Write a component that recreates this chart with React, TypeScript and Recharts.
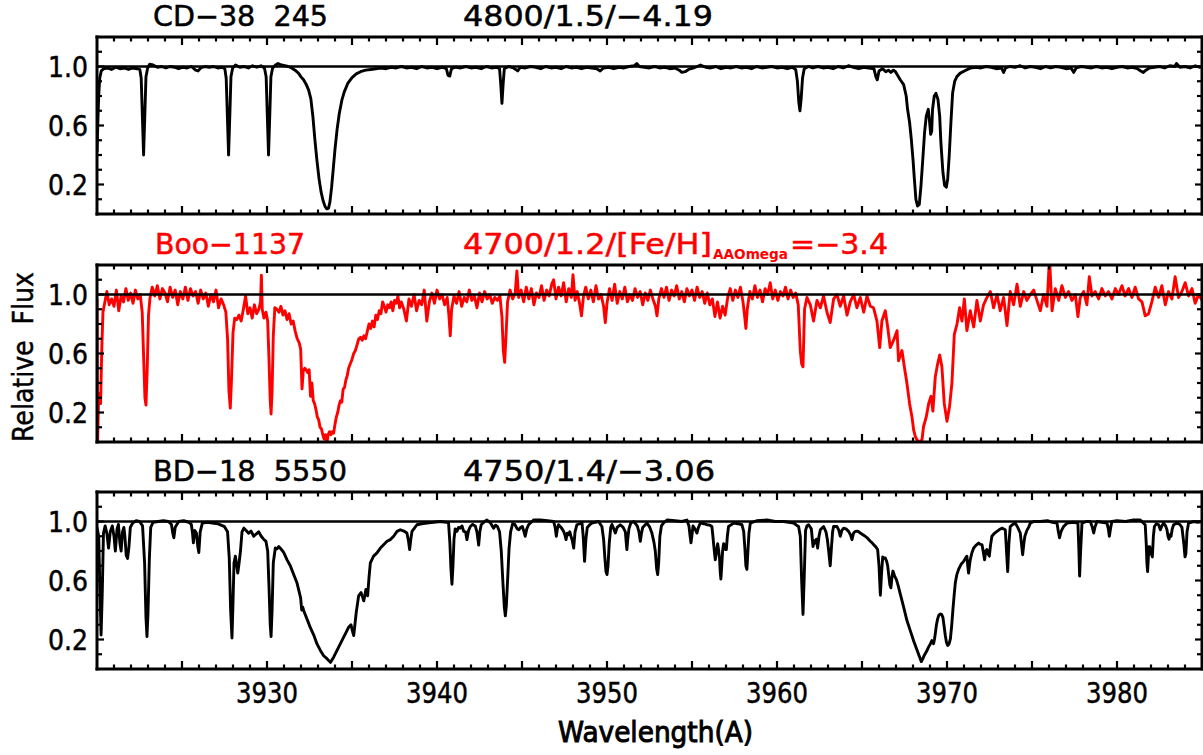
import React from 'react'
import { LineChart, Line, XAxis, YAxis, ReferenceLine } from 'recharts'

type Pt = [number, number]

// CD-38 245 (top panel, black)
const cd38Spec: Pt[] = [
  [3920.00,0.42],[3920.05,0.62],[3920.10,0.80],[3920.16,0.92],[3920.25,0.97],[3920.40,0.985],[3920.60,0.99],[3920.85,0.98],[3921.10,0.995],[3921.35,0.985],[3921.60,0.99],[3921.85,0.98],[3922.10,0.99],[3922.35,0.985],[3922.52,0.98],[3922.60,0.92],[3922.67,0.66],[3922.74,0.40],[3922.81,0.66],[3922.88,0.93],[3922.98,0.99],[3923.10,1.015],[3923.30,1.01],[3923.55,0.995],[3923.80,1.0],[3924.05,0.99],[3924.30,1.0],[3924.55,0.995],[3924.80,0.985],[3925.05,0.995],[3925.30,0.99],[3925.55,1.0],[3925.80,0.975],[3925.95,0.97],[3926.10,0.99],[3926.35,1.0],[3926.60,0.995],[3926.85,1.0],[3927.10,0.99],[3927.35,0.995],[3927.52,0.985],[3927.60,0.92],[3927.67,0.66],[3927.74,0.40],[3927.81,0.66],[3927.88,0.93],[3927.98,0.99],[3928.15,1.01],[3928.40,0.995],[3928.65,1.0],[3928.90,0.99],[3929.15,1.005],[3929.40,0.995],[3929.65,1.005],[3929.85,0.99],[3929.95,0.93],[3930.02,0.66],[3930.09,0.40],[3930.16,0.66],[3930.23,0.93],[3930.33,0.99],[3930.50,1.01],[3930.65,1.02],[3930.85,1.01],[3931.05,1.005],[3931.25,1.0],[3931.45,0.99],[3931.65,0.975],[3931.85,0.955],[3932.00,0.93],[3932.15,0.91],[3932.30,0.88],[3932.45,0.84],[3932.58,0.78],[3932.70,0.66],[3932.82,0.50],[3932.94,0.36],[3933.06,0.24],[3933.18,0.15],[3933.30,0.09],[3933.42,0.05],[3933.52,0.035],[3933.62,0.04],[3933.70,0.08],[3933.80,0.18],[3933.90,0.31],[3934.00,0.44],[3934.12,0.57],[3934.25,0.68],[3934.40,0.77],[3934.55,0.83],[3934.75,0.885],[3935.00,0.925],[3935.25,0.95],[3935.50,0.965],[3935.80,0.975],[3936.10,0.98],[3936.40,0.985],[3936.70,0.99],[3937.00,0.985],[3937.30,0.995],[3937.60,0.99],[3937.90,1.0],[3938.20,0.99],[3938.50,0.995],[3938.80,0.985],[3939.10,1.0],[3939.40,0.99],[3939.70,0.995],[3940.00,0.985],[3940.30,0.995],[3940.55,0.985],[3940.65,0.94],[3940.75,0.935],[3940.85,0.985],[3941.10,0.995],[3941.40,0.99],[3941.70,1.0],[3942.00,0.99],[3942.30,0.995],[3942.60,0.985],[3942.90,1.0],[3943.20,0.99],[3943.50,0.995],[3943.68,0.985],[3943.75,0.88],[3943.82,0.75],[3943.89,0.88],[3943.96,0.985],[3944.20,1.0],[3944.50,0.99],[3944.75,0.97],[3944.90,0.995],[3945.20,0.99],[3945.50,1.0],[3945.80,0.995],[3946.10,0.985],[3946.40,1.0],[3946.70,0.99],[3947.00,0.995],[3947.30,0.985],[3947.60,1.0],[3947.90,0.99],[3948.20,0.995],[3948.50,0.985],[3948.80,0.995],[3949.10,0.99],[3949.40,0.985],[3949.60,0.97],[3949.80,0.99],[3950.10,0.995],[3950.40,0.985],[3950.70,0.995],[3951.00,0.99],[3951.30,1.0],[3951.60,1.005],[3951.75,1.02],[3951.90,1.0],[3952.20,0.995],[3952.50,0.99],[3952.80,1.0],[3953.10,0.99],[3953.40,0.995],[3953.70,0.985],[3954.00,0.99],[3954.25,0.975],[3954.40,0.96],[3954.60,0.965],[3954.80,0.98],[3955.10,0.99],[3955.50,1.01],[3955.80,0.995],[3956.10,0.99],[3956.40,1.0],[3956.70,0.985],[3957.00,0.995],[3957.30,0.99],[3957.60,1.0],[3957.90,0.99],[3958.20,0.995],[3958.50,0.985],[3958.80,1.0],[3959.10,0.99],[3959.40,0.995],[3959.70,1.0],[3960.00,0.99],[3960.30,0.995],[3960.60,0.985],[3960.90,0.995],[3961.10,0.98],[3961.20,0.90],[3961.28,0.76],[3961.35,0.70],[3961.42,0.78],[3961.50,0.92],[3961.60,0.985],[3961.85,1.0],[3962.10,0.99],[3962.40,1.0],[3962.70,0.99],[3963.00,0.995],[3963.30,0.985],[3963.60,1.0],[3963.90,0.99],[3964.20,1.005],[3964.50,0.995],[3964.80,0.985],[3965.10,0.995],[3965.40,0.99],[3965.70,0.985],[3965.82,0.93],[3965.90,0.91],[3966.00,0.97],[3966.20,0.985],[3966.40,0.965],[3966.55,0.975],[3966.70,0.96],[3966.85,0.975],[3966.96,0.966],[3967.25,0.91],[3967.45,0.877],[3967.60,0.80],[3967.68,0.71],[3967.80,0.62],[3967.90,0.507],[3968.00,0.37],[3968.08,0.238],[3968.17,0.10],[3968.27,0.054],[3968.37,0.065],[3968.47,0.193],[3968.59,0.395],[3968.68,0.552],[3968.78,0.664],[3968.90,0.71],[3968.98,0.62],[3969.04,0.54],[3969.10,0.563],[3969.15,0.71],[3969.25,0.80],[3969.35,0.818],[3969.47,0.776],[3969.57,0.664],[3969.64,0.485],[3969.76,0.283],[3969.86,0.193],[3969.96,0.182],[3970.04,0.238],[3970.13,0.395],[3970.23,0.62],[3970.33,0.82],[3970.45,0.899],[3970.59,0.933],[3970.78,0.955],[3971.08,0.973],[3971.37,0.989],[3971.70,0.995],[3972.00,0.99],[3972.30,1.0],[3972.60,0.995],[3972.90,0.985],[3973.20,0.99],[3973.33,0.96],[3973.45,0.99],[3973.70,1.0],[3974.00,0.995],[3974.30,1.005],[3974.60,0.99],[3974.90,1.0],[3975.20,0.995],[3975.50,0.985],[3975.80,1.0],[3976.10,0.99],[3976.40,1.0],[3976.70,0.995],[3977.00,0.985],[3977.30,0.99],[3977.45,0.96],[3977.60,0.99],[3977.90,1.0],[3978.20,0.995],[3978.50,0.99],[3978.80,1.0],[3979.10,0.99],[3979.40,0.995],[3979.70,0.985],[3980.00,0.995],[3980.30,1.0],[3980.60,0.99],[3980.90,0.995],[3981.20,0.985],[3981.40,0.97],[3981.55,0.96],[3981.70,0.975],[3981.90,0.99],[3982.20,0.995],[3982.50,1.0],[3982.80,0.99],[3983.10,1.005],[3983.40,1.0],[3983.50,1.02],[3983.70,0.995],[3984.00,1.0],[3984.30,0.99],[3984.60,1.005],[3984.85,0.995],[3985.00,1.0],
]

// Boo-1137 (middle panel, red, noisy)
const boo1137Spec: Pt[] = [
  [3920.00,0.97],[3920.03,-0.03],[3920.09,0.28],[3920.15,0.33],[3920.21,0.26],[3920.28,0.62],[3920.35,0.88],[3920.45,0.94],[3920.58,1.02],[3920.72,0.93],[3920.86,0.97],[3921.00,0.92],[3921.14,1.03],[3921.28,0.89],[3921.42,0.99],[3921.56,0.95],[3921.70,1.04],[3921.84,0.96],[3921.98,1.01],[3922.12,0.94],[3922.26,1.03],[3922.40,0.97],[3922.54,1.00],[3922.66,0.88],[3922.75,0.55],[3922.82,0.30],[3922.88,0.25],[3922.95,0.48],[3923.03,0.86],[3923.12,0.98],
  [3923.25,1.05],[3923.40,0.99],[3923.55,1.06],[3923.70,0.97],[3923.85,1.04],[3924.00,1.01],[3924.15,0.95],[3924.30,1.05],[3924.45,0.98],[3924.60,1.03],[3924.75,0.93],[3924.90,1.02],[3925.05,0.97],[3925.20,1.05],[3925.35,0.96],[3925.50,1.04],[3925.65,0.99],[3925.80,1.02],[3925.95,0.94],[3926.10,1.03],[3926.25,0.97],[3926.40,1.01],[3926.55,0.92],[3926.70,1.00],[3926.85,0.95],[3927.00,1.03],[3927.15,0.91],[3927.30,0.97],[3927.45,0.93],[3927.58,0.88],[3927.68,0.70],[3927.76,0.35],[3927.84,0.23],[3927.91,0.42],[3928.00,0.74],[3928.10,0.84],
  [3928.22,0.83],[3928.35,0.86],[3928.48,0.82],[3928.61,0.90],[3928.74,0.99],[3928.87,0.87],[3929.00,0.91],[3929.13,0.84],[3929.26,0.93],[3929.39,0.87],[3929.52,0.90],[3929.62,0.95],[3929.67,1.13],[3929.72,0.90],[3929.82,0.84],[3929.94,0.88],[3930.04,0.82],[3930.12,0.55],[3930.19,0.28],[3930.24,0.19],[3930.30,0.35],[3930.37,0.72],[3930.46,0.91],
  [3930.58,0.90],[3930.70,0.88],[3930.82,0.92],[3930.94,0.86],[3931.06,0.89],[3931.18,0.83],[3931.30,0.87],[3931.42,0.80],[3931.54,0.82],[3931.66,0.75],[3931.78,0.70],[3931.90,0.67],[3931.98,0.63],[3932.06,0.36],[3932.13,0.48],[3932.22,0.50],[3932.30,0.49],[3932.40,0.47],[3932.48,0.49],[3932.56,0.31],[3932.64,0.40],[3932.72,0.28],[3932.80,0.26],[3932.88,0.22],[3932.96,0.17],[3933.04,0.15],[3933.12,0.10],[3933.20,0.09],[3933.28,0.05],[3933.36,0.02],[3933.44,0.05],[3933.52,-0.01],[3933.60,0.05],[3933.68,0.07],[3933.76,0.05],[3933.84,0.07],[3933.92,0.06],[3934.00,0.12],[3934.08,0.17],[3934.16,0.20],[3934.24,0.25],[3934.32,0.28],[3934.40,0.27],[3934.48,0.36],[3934.56,0.37],[3934.64,0.42],[3934.72,0.45],[3934.80,0.50],[3934.90,0.53],[3935.00,0.56],[3935.10,0.60],[3935.20,0.62],[3935.30,0.66],[3935.40,0.70],[3935.50,0.71],[3935.60,0.69],[3935.70,0.72],[3935.80,0.70],[3935.90,0.75],[3936.00,0.80],[3936.10,0.77],[3936.20,0.82],[3936.30,0.78],[3936.40,0.86],[3936.50,0.83],[3936.60,0.89],[3936.70,0.87],[3936.80,0.95],[3936.90,0.92],[3937.00,0.88],[3937.10,0.93],[3937.20,0.91],[3937.30,0.95],[3937.40,0.89],[3937.50,0.96],[3937.60,0.94],[3937.70,0.99],[3937.80,0.91],
  [3937.90,0.95],[3938.05,0.90],[3938.20,0.82],[3938.35,0.97],[3938.50,0.92],[3938.65,1.00],[3938.80,0.89],[3938.95,0.96],[3939.10,0.93],[3939.25,1.03],[3939.40,0.82],[3939.55,0.95],[3939.70,1.01],[3939.85,0.94],[3940.00,1.03],[3940.15,0.97],[3940.30,1.00],[3940.45,0.93],[3940.60,0.98],[3940.70,0.86],[3940.78,0.72],[3940.86,0.90],[3941.00,0.99],[3941.15,0.94],[3941.30,1.02],[3941.45,0.92],[3941.60,0.98],[3941.75,0.95],[3941.90,1.03],[3942.05,0.96],[3942.20,0.99],[3942.35,0.91],[3942.50,1.01],[3942.65,0.95],[3942.80,1.02],[3942.95,0.97],[3943.10,1.00],[3943.25,0.94],[3943.40,0.98],[3943.55,0.96],[3943.70,0.99],[3943.82,0.85],[3943.90,0.62],[3943.98,0.54],[3944.06,0.72],[3944.15,0.95],[3944.30,1.03],[3944.45,0.97],[3944.60,1.01],[3944.70,1.16],[3944.80,0.98],[3944.95,1.03],[3945.10,0.95],[3945.25,1.05],[3945.40,0.97],[3945.55,1.04],[3945.70,0.93],[3945.85,1.01],[3946.00,0.98],[3946.15,1.06],[3946.30,0.96],[3946.45,1.03],[3946.60,0.99],[3946.75,1.07],[3946.86,1.10],[3947.00,0.97],[3947.15,1.05],[3947.30,0.99],[3947.45,1.08],[3947.60,0.95],[3947.75,1.04],[3947.90,0.98],[3948.00,1.135],[3948.12,0.96],[3948.25,1.02],[3948.40,0.93],[3948.50,0.855],[3948.62,0.99],[3948.75,1.05],[3948.90,0.97],[3949.05,1.03],[3949.20,0.95],[3949.35,1.06],[3949.50,0.97],[3949.65,1.00],[3949.80,0.92],[3949.90,0.81],[3950.00,0.94],[3950.15,1.04],[3950.30,0.96],[3950.45,1.07],[3950.60,0.94],[3950.75,1.02],[3950.90,0.97],[3951.05,1.05],[3951.20,0.95],[3951.35,1.00],[3951.50,0.96],[3951.65,1.04],[3951.80,0.98],[3951.95,1.02],[3952.10,0.93],[3952.25,1.01],[3952.40,0.96],[3952.55,1.03],[3952.70,0.97],[3952.85,0.92],[3952.94,0.855],[3953.05,0.97],[3953.20,1.04],[3953.35,0.98],[3953.50,1.05],[3953.65,0.96],[3953.80,1.03],[3953.95,0.99],[3954.10,1.06],[3954.25,0.97],[3954.40,1.02],[3954.55,0.95],[3954.70,1.04],[3954.85,0.99],[3955.00,1.03],[3955.15,0.96],[3955.30,1.05],[3955.45,0.98],[3955.60,1.02],[3955.75,0.94],[3955.90,1.01],[3956.05,0.93],[3956.20,0.97],[3956.35,0.85],[3956.50,0.95],[3956.65,0.84],[3956.80,0.92],[3956.95,0.86],[3957.10,0.98],[3957.25,1.04],[3957.40,0.96],[3957.55,1.03],[3957.70,0.98],[3957.85,1.05],[3958.00,0.95],[3958.10,0.85],[3958.17,0.77],[3958.25,0.90],[3958.40,1.02],[3958.55,0.97],[3958.70,1.06],[3958.85,0.98],[3959.00,1.03],[3959.15,0.95],[3959.30,1.04],[3959.45,1.00],[3959.60,1.08],[3959.75,0.97],[3959.90,1.03],[3960.05,0.96],[3960.20,1.02],[3960.35,0.99],[3960.50,1.05],[3960.65,0.97],[3960.80,1.03],[3960.95,0.98],[3961.10,1.01],[3961.25,0.93],[3961.37,0.62],[3961.45,0.53],[3961.53,0.51],[3961.62,0.90],
  [3961.76,0.98],[3961.96,0.93],[3962.15,0.82],[3962.35,0.96],[3962.55,0.91],[3962.74,0.99],[3962.94,0.88],[3963.13,0.81],[3963.33,0.97],[3963.53,1.00],[3963.72,0.92],[3963.92,0.99],[3964.12,0.86],[3964.31,0.95],[3964.51,1.00],[3964.70,0.91],[3964.90,0.98],[3965.10,0.88],[3965.29,0.99],[3965.49,0.92],[3965.68,0.91],[3965.88,0.82],[3966.04,0.64],[3966.17,0.82],[3966.37,0.89],[3966.51,0.78],[3966.66,0.64],[3966.86,0.69],[3967.06,0.755],[3967.15,0.55],[3967.35,0.62],[3967.49,0.51],[3967.64,0.40],[3967.80,0.26],[3967.94,0.17],[3968.04,0.08],[3968.13,0.04],[3968.23,0.015],[3968.37,0.00],[3968.53,0.015],[3968.62,0.105],[3968.78,0.17],[3968.92,0.26],[3969.06,0.31],[3969.17,0.21],[3969.31,0.44],[3969.45,0.53],[3969.57,0.59],[3969.70,0.51],[3969.84,0.26],[3970.00,0.14],[3970.15,0.24],[3970.29,0.40],[3970.43,0.73],[3970.59,0.80],[3970.74,0.91],[3970.88,0.82],[3971.02,0.97],[3971.17,0.755],[3971.37,0.89],[3971.57,0.78],[3971.76,0.96],[3971.96,0.82],[3972.15,0.93],[3972.35,0.98],[3972.55,1.02],[3972.74,0.91],[3972.94,1.00],[3973.13,0.89],[3973.33,0.98],[3973.53,0.79],[3973.72,1.02],[3973.92,0.93],[3974.12,1.07],[3974.31,0.92],[3974.51,1.02],[3974.70,0.96],[3974.90,1.00],[3975.10,1.03],[3975.29,0.96],[3975.49,0.89],[3975.68,1.00],[3975.88,0.92],[3976.03,1.25],[3976.18,0.89],[3976.37,1.04],[3976.57,0.96],[3976.76,1.06],[3976.96,0.98],[3977.15,1.02],[3977.35,0.96],[3977.55,1.00],[3977.70,0.85],[3977.84,0.98],[3978.04,1.02],[3978.23,0.93],[3978.37,1.12],[3978.53,0.99],[3978.72,1.02],[3978.92,0.97],[3979.11,1.04],[3979.31,0.99],[3979.50,1.02],[3979.70,0.97],[3979.90,1.04],[3980.09,1.00],[3980.29,1.06],[3980.48,0.99],[3980.68,1.04],[3980.88,0.98],[3981.07,1.05],[3981.27,0.97],[3981.47,0.95],[3981.66,0.855],[3981.86,0.87],[3982.05,0.95],[3982.25,1.05],[3982.45,0.98],[3982.64,1.06],[3982.84,0.93],[3983.03,1.02],[3983.23,0.97],[3983.42,1.12],[3983.62,0.98],[3983.82,1.02],[3984.01,1.08],[3984.21,0.99],[3984.41,1.04],[3984.60,0.94],[3984.80,1.00],[3985.00,0.96],
]

// BD-18 5550 (bottom panel, black)
const bd18Spec: Pt[] = [
  [3920.00,0.96],[3920.10,0.90],[3920.17,0.55],[3920.24,0.23],[3920.31,0.52],[3920.38,0.92],[3920.48,0.97],[3920.58,0.92],[3920.68,0.82],[3920.78,0.93],[3920.90,0.97],[3921.00,0.90],[3921.08,0.80],[3921.18,0.95],[3921.26,0.98],[3921.35,0.85],[3921.42,0.80],[3921.50,0.93],[3921.58,0.96],[3921.64,0.90],[3921.72,0.77],[3921.80,0.75],[3921.88,0.83],[3921.96,0.96],[3922.10,0.99],[3922.30,1.005],[3922.50,1.0],[3922.68,0.97],[3922.80,0.72],[3922.88,0.35],[3922.94,0.22],[3923.00,0.38],[3923.08,0.75],[3923.16,0.96],[3923.30,0.995],[3923.60,1.0],[3923.90,1.005],[3924.20,1.0],[3924.38,0.98],[3924.46,0.92],[3924.52,0.89],[3924.60,0.96],[3924.80,1.0],[3925.10,1.005],[3925.40,0.995],[3925.55,0.98],[3925.62,0.92],[3925.67,0.855],[3925.75,0.94],[3925.85,0.92],[3925.93,0.83],[3925.99,0.79],[3926.07,0.93],[3926.20,0.99],[3926.50,0.995],[3926.80,0.99],[3927.10,0.985],[3927.30,0.975],[3927.50,0.965],[3927.68,0.93],[3927.78,0.75],[3927.86,0.40],[3927.94,0.21],[3928.00,0.45],[3928.06,0.72],[3928.14,0.765],[3928.22,0.70],[3928.28,0.65],[3928.36,0.72],[3928.44,0.80],[3928.53,0.93],[3928.64,0.955],[3928.76,0.94],[3928.92,0.92],[3929.06,0.935],[3929.22,0.90],[3929.36,0.915],[3929.51,0.93],[3929.66,0.90],[3929.80,0.88],[3929.94,0.865],[3930.04,0.80],[3930.12,0.55],[3930.19,0.30],[3930.24,0.22],[3930.30,0.40],[3930.37,0.72],[3930.49,0.82],[3930.60,0.815],[3930.69,0.83],[3930.85,0.81],[3930.98,0.79],[3931.18,0.74],[3931.37,0.70],[3931.57,0.64],[3931.76,0.585],[3931.90,0.52],[3931.98,0.48],[3932.04,0.40],[3932.10,0.42],[3932.16,0.395],[3932.35,0.34],[3932.55,0.28],[3932.75,0.23],[3932.94,0.17],[3933.14,0.126],[3933.33,0.09],[3933.53,0.07],[3933.73,0.045],[3933.92,0.08],[3934.12,0.126],[3934.31,0.17],[3934.51,0.216],[3934.66,0.25],[3934.80,0.283],[3934.94,0.30],[3935.02,0.26],[3935.10,0.227],[3935.18,0.31],[3935.25,0.384],[3935.39,0.496],[3935.53,0.518],[3935.62,0.49],[3935.69,0.462],[3935.76,0.50],[3935.82,0.54],[3935.92,0.496],[3936.00,0.62],[3936.08,0.72],[3936.27,0.765],[3936.47,0.787],[3936.67,0.82],[3936.86,0.843],[3937.06,0.866],[3937.25,0.877],[3937.45,0.90],[3937.65,0.933],[3937.84,0.944],
  [3938.05,0.935],[3938.23,0.922],[3938.32,0.87],[3938.39,0.81],[3938.46,0.88],[3938.53,0.933],[3938.82,0.978],[3939.10,0.985],[3939.41,0.989],[3939.80,0.995],[3940.19,1.0],[3940.55,0.995],[3940.68,0.99],[3940.76,0.85],[3940.82,0.68],[3940.88,0.575],[3940.94,0.70],[3941.00,0.88],[3941.07,0.95],[3941.17,0.933],[3941.27,0.96],[3941.37,0.955],[3941.47,0.97],[3941.57,0.933],[3941.68,0.93],[3941.76,0.877],[3941.86,0.94],[3941.96,0.966],[3942.10,0.98],[3942.25,0.97],[3942.35,0.93],[3942.45,0.84],[3942.52,0.93],[3942.60,0.978],[3942.80,1.0],[3942.94,1.01],[3943.15,0.99],[3943.33,0.955],[3943.45,0.975],[3943.56,0.965],[3943.68,0.93],[3943.78,0.80],[3943.88,0.58],[3943.96,0.42],[3944.02,0.36],[3944.08,0.43],[3944.16,0.62],[3944.24,0.82],[3944.33,0.93],[3944.45,0.985],[3944.58,0.98],[3944.72,0.95],[3944.82,0.944],[3944.92,0.96],[3945.02,0.966],[3945.12,0.93],[3945.19,0.90],[3945.28,0.95],[3945.39,0.978],[3945.68,1.01],[3946.08,1.01],[3946.50,1.005],[3946.86,1.0],[3946.95,0.96],[3947.02,0.90],[3947.08,0.95],[3947.15,0.978],[3947.30,0.96],[3947.45,0.933],[3947.52,0.91],[3947.59,0.877],[3947.66,0.92],[3947.74,0.91],[3947.81,0.93],[3947.88,0.90],[3947.96,0.87],[3948.04,0.82],[3948.12,0.93],[3948.23,0.978],[3948.53,0.99],[3948.60,0.90],[3948.68,0.73],[3948.76,0.88],[3948.84,0.96],[3948.96,0.975],[3949.11,0.99],[3949.50,1.0],[3949.70,0.966],[3949.80,0.88],[3949.87,0.76],[3949.94,0.66],[3950.00,0.64],[3950.06,0.70],[3950.13,0.85],[3950.22,0.96],[3950.29,0.98],[3950.40,0.95],[3950.49,0.922],[3950.60,0.96],[3950.78,0.978],[3950.95,0.96],[3951.08,0.93],[3951.13,0.86],[3951.17,0.81],[3951.22,0.88],[3951.29,0.95],[3951.40,0.99],[3951.57,1.0],[3951.78,0.97],[3951.88,0.93],[3951.96,0.866],[3952.03,0.92],[3952.10,0.96],[3952.35,0.99],[3952.52,0.96],[3952.64,0.922],[3952.76,0.86],[3952.84,0.80],[3952.92,0.68],[3952.98,0.64],[3953.04,0.72],[3953.11,0.90],[3953.20,0.97],[3953.33,0.99],[3953.53,1.01],[3954.00,1.005],[3954.40,1.0],[3954.70,1.01],[3954.82,0.97],[3954.89,0.90],[3954.94,0.855],[3955.00,0.91],[3955.06,0.97],[3955.17,0.95],[3955.29,0.922],[3955.38,0.96],[3955.49,0.989],[3955.70,0.985],[3955.88,0.978],[3956.05,0.975],[3956.17,0.966],[3956.23,0.90],[3956.27,0.85],[3956.33,0.78],[3956.37,0.74],[3956.44,0.80],[3956.51,0.85],[3956.57,0.80],[3956.62,0.75],[3956.66,0.66],[3956.70,0.61],[3956.75,0.70],[3956.80,0.80],[3956.86,0.85],[3956.92,0.84],[3956.97,0.81],[3957.02,0.81],[3957.08,0.90],[3957.15,0.966],[3957.45,0.989],[3957.70,0.985],[3957.94,0.978],[3958.04,0.933],[3958.11,0.82],[3958.17,0.70],[3958.23,0.675],[3958.29,0.80],[3958.35,0.92],[3958.43,0.989],[3958.80,1.005],[3959.41,1.01],[3959.90,1.0],[3960.39,1.0],[3960.70,0.995],[3960.98,0.99],[3961.15,0.975],[3961.27,0.966],
  [3961.37,0.90],[3961.45,0.60],[3961.53,0.37],[3961.60,0.62],[3961.68,0.94],[3961.76,0.97],[3961.86,0.978],[3962.02,0.95],[3962.12,0.83],[3962.19,0.87],[3962.25,0.855],[3962.32,0.88],[3962.39,0.82],[3962.47,0.90],[3962.55,0.944],[3962.74,0.966],[3962.88,0.93],[3962.96,0.88],[3963.04,0.80],[3963.13,0.70],[3963.20,0.82],[3963.27,0.93],[3963.33,0.966],[3963.53,0.966],[3963.64,0.94],[3963.72,0.90],[3963.82,0.94],[3963.92,0.955],[3964.06,0.95],[3964.21,0.933],[3964.32,0.91],[3964.41,0.877],[3964.50,0.92],[3964.60,0.933],[3964.75,0.935],[3964.90,0.922],[3965.05,0.91],[3965.19,0.90],[3965.34,0.885],[3965.49,0.866],[3965.60,0.855],[3965.68,0.843],[3965.80,0.83],[3965.92,0.81],[3966.00,0.70],[3966.08,0.50],[3966.15,0.65],[3966.22,0.76],[3966.30,0.75],[3966.37,0.753],[3966.45,0.73],[3966.51,0.70],[3966.58,0.63],[3966.64,0.57],[3966.70,0.55],[3966.76,0.62],[3966.82,0.664],[3966.92,0.63],[3967.02,0.608],[3967.14,0.56],[3967.25,0.51],[3967.45,0.42],[3967.64,0.33],[3967.84,0.26],[3968.04,0.19],[3968.23,0.13],[3968.36,0.09],[3968.49,0.05],[3968.58,0.07],[3968.66,0.092],[3968.80,0.12],[3968.92,0.15],[3969.02,0.17],[3969.11,0.193],[3969.17,0.18],[3969.21,0.171],[3969.26,0.20],[3969.31,0.238],[3969.38,0.30],[3969.45,0.34],[3969.52,0.365],[3969.60,0.373],[3969.68,0.37],[3969.76,0.35],[3969.83,0.29],[3969.90,0.227],[3969.97,0.18],[3970.04,0.16],[3970.12,0.17],[3970.20,0.204],[3970.28,0.30],[3970.35,0.406],[3970.42,0.50],[3970.49,0.585],[3970.58,0.64],[3970.68,0.675],[3970.83,0.71],[3970.98,0.73],[3971.08,0.75],[3971.17,0.765],[3971.22,0.70],[3971.27,0.65],[3971.32,0.70],[3971.37,0.742],[3971.47,0.79],[3971.57,0.821],[3971.72,0.84],[3971.86,0.854],[3971.96,0.845],[3972.06,0.843],[3972.14,0.79],[3972.21,0.74],[3972.28,0.80],[3972.35,0.81],[3972.42,0.78],[3972.49,0.765],[3972.56,0.84],[3972.64,0.90],[3972.79,0.92],[3972.94,0.933],[3973.08,0.945],[3973.23,0.955],[3973.43,0.944],[3973.50,0.80],[3973.57,0.66],[3973.64,0.85],[3973.72,0.966],[3973.87,0.98],[3974.02,0.989],[3974.16,0.96],[3974.31,0.922],[3974.38,0.85],[3974.45,0.775],[3974.52,0.85],[3974.58,0.90],[3974.70,0.94],[3974.80,0.96],[3974.90,0.989],[3975.10,1.0],[3975.49,1.0],[3975.90,1.005],[3976.20,0.995],[3976.47,0.99],[3976.55,0.93],[3976.62,0.89],[3976.68,0.92],[3976.74,0.94],[3976.86,0.966],[3977.06,0.989],[3977.40,0.995],[3977.70,0.99],[3977.76,0.80],[3977.80,0.63],[3977.86,0.80],[3977.94,0.989],[3978.20,1.0],[3978.43,1.0],[3978.55,0.96],[3978.63,0.922],[3978.70,0.96],[3978.82,1.0],[3979.10,0.995],[3979.41,0.989],[3979.49,0.95],[3979.55,0.90],[3979.63,0.96],[3979.70,1.0],[3980.00,1.005],[3980.50,1.0],[3980.98,1.01],[3981.37,1.01],[3981.55,0.99],[3981.66,0.978],[3981.72,0.85],[3981.76,0.72],[3981.80,0.66],[3981.84,0.75],[3981.88,0.83],[3981.92,0.83],[3981.97,0.80],[3982.02,0.78],[3982.08,0.76],[3982.14,0.90],[3982.20,0.966],[3982.32,0.985],[3982.45,0.978],[3982.55,0.944],[3982.64,0.97],[3982.74,0.989],[3982.86,0.97],[3982.94,0.944],[3983.00,0.90],[3983.06,0.88],[3983.12,0.91],[3983.18,0.90],[3983.25,0.95],[3983.33,0.978],[3983.53,0.989],[3983.70,0.98],[3983.82,0.96],[3983.88,0.90],[3983.94,0.84],[3984.00,0.76],[3984.05,0.78],[3984.12,0.93],[3984.21,0.989],[3984.51,1.0],[3984.75,0.995],[3985.00,1.0],
]

const xTickLabels = [3930, 3940, 3950, 3960, 3970, 3980]
const xTicks = Array.from({ length: 64 }, (_, i) => 3921 + i)
const yTicks = [0.1, 0.2, 0.3, 0.4, 0.5, 0.6, 0.7, 0.8, 0.9, 1.0, 1.1]
const yTickLabels = [0.2, 0.6, 1.0]

const W = 1203
const H = 755
const PLOT_LEFT = 97
const PLOT_H = 177
const M_TOP = 10
const M_BOTTOM = 50
const FONT = '"DejaVu Sans", Verdana, sans-serif'
const frame = { stroke: '#000', strokeWidth: 3, strokeLinecap: 'square' as const }

const toRows = (s: Pt[]) => s.map(([wl, f]) => ({ wl, f }))
const isLabelY = (v: number) => yTickLabels.some((t) => Math.abs(t - v) < 1e-6)

function XTick(props: any) {
  const { x, y, payload, side, showLabel } = props
  const v = payload.value
  const len = v % 5 === 0 ? 8 : 4.5
  const dir = side === 'top' ? 1 : -1
  return (
    <g>
      <line x1={x} y1={y} x2={x} y2={y + dir * len} stroke="#000" strokeWidth={2.2} />
      {showLabel && xTickLabels.includes(v) && (
        <text x={x - 31} y={y + 34} fontFamily={FONT} fontSize={28} fill="#000" stroke="#000" strokeWidth={0.5}
          textLength={62} lengthAdjust="spacingAndGlyphs">{v}</text>
      )}
    </g>
  )
}

function YTick(props: any) {
  const { x, y, payload, side } = props
  const v = payload.value
  const len = isLabelY(v) ? 7 : 5
  const dir = side === 'right' ? -1 : 1
  return (
    <g>
      <line x1={x} y1={y} x2={x + dir * len} y2={y} stroke="#000" strokeWidth={2.2} />
      {side === 'left' && isLabelY(v) && (
        <text x={x - 49} y={y + 10} fontFamily={FONT} fontSize={28} fill="#000" stroke="#000" strokeWidth={0.5}
          textLength={40} lengthAdjust="spacingAndGlyphs">{v.toFixed(1)}</text>
      )}
    </g>
  )
}

function Panel({ spec, color, top, showLabels }: { spec: Pt[]; color: string; top: number; showLabels: boolean }) {
  // axes of size 1 on top/right so the plot area stays at x 97..1202, y top..top+177
  return (
    <div style={{ position: 'absolute', left: 0, top: top - M_TOP - 1 }}>
      <LineChart width={W} height={M_TOP + 1 + PLOT_H + 1 + M_BOTTOM} data={toRows(spec)}
        margin={{ top: M_TOP, right: 0, bottom: M_BOTTOM, left: 0 }}>
        <XAxis dataKey="wl" type="number" domain={[3920, 3985]} allowDataOverflow ticks={xTicks} interval={0}
          height={1} tickSize={0} tickMargin={0} axisLine={frame} tickLine={false}
          tick={(p: any) => <XTick {...p} side="bottom" showLabel={showLabels} />} />
        <XAxis xAxisId="top" orientation="top" dataKey="wl" type="number" domain={[3920, 3985]} allowDataOverflow
          ticks={xTicks} interval={0} height={1} tickSize={0} tickMargin={0} axisLine={frame} tickLine={false}
          tick={(p: any) => <XTick {...p} side="top" showLabel={false} />} />
        <YAxis type="number" domain={[0, 1.2]} allowDataOverflow ticks={yTicks} interval={0} width={PLOT_LEFT}
          tickSize={0} tickMargin={0} axisLine={frame} tickLine={false}
          tick={(p: any) => <YTick {...p} side="left" />} />
        <YAxis yAxisId="right" orientation="right" type="number" domain={[0, 1.2]} allowDataOverflow ticks={yTicks}
          interval={0} width={1} tickSize={0} tickMargin={0} axisLine={frame} tickLine={false}
          tick={(p: any) => <YTick {...p} side="right" />} />
        <Line dataKey="f" type="linear" stroke={color} strokeWidth={2.9} strokeLinejoin="round" dot={false} isAnimationActive={false} />
        <ReferenceLine y={1} stroke="#000" strokeWidth={2.3} />
      </LineChart>
    </div>
  )
}

const txt = { fontFamily: FONT, fontSize: 28, lengthAdjust: 'spacingAndGlyphs' as const, strokeWidth: 0.5 }

export default function App() {
  return (
    <div style={{ position: 'absolute', left: 0, top: 0, width: W, height: H, background: '#fff', overflow: 'hidden' }}>
      <Panel spec={cd38Spec} color="#000" top={37} showLabels={false} />
      <Panel spec={boo1137Spec} color="#ff0000" top={265} showLabels={false} />
      <Panel spec={bd18Spec} color="#000" top={492} showLabels />
      <svg width={W} height={H} style={{ position: 'absolute', left: 0, top: 0, pointerEvents: 'none' }}>
        <text x={153} y={26} {...txt} textLength={175} fill="#000" stroke="#000" style={{ whiteSpace: 'pre' }}>CD−38  245</text>
        <text x={463} y={26} {...txt} textLength={250} fill="#000" stroke="#000">4800/1.5/−4.19</text>

        <text x={155} y={254} {...txt} textLength={150} fill="#ff0000" stroke="#ff0000">Boo−1137</text>
        <text x={463} y={254} {...txt} textLength={249} fill="#ff0000" stroke="#ff0000">4700/1.2/[Fe/H]</text>
        <text x={713} y={259} fontFamily={FONT} fontSize={13.5} fontWeight="bold" textLength={75}
          lengthAdjust="spacingAndGlyphs" fill="#ff0000">AAOmega</text>
        <text x={790} y={254} {...txt} textLength={98} fill="#ff0000" stroke="#ff0000">=−3.4</text>

        <text x={153} y={481} {...txt} textLength={194} fill="#000" stroke="#000" style={{ whiteSpace: 'pre' }}>BD−18  5550</text>
        <text x={463} y={481} {...txt} textLength={252} fill="#000" stroke="#000">4750/1.4/−3.06</text>

        <text transform="translate(33 442) rotate(-90)" {...txt} textLength={170} fill="#000" stroke="#000" style={{ whiteSpace: 'pre' }}>Relative  Flux</text>
        <text x={558} y={742} {...txt} strokeWidth={1} textLength={195} fill="#000" stroke="#000">Wavelength(A)</text>
      </svg>
    </div>
  )
}
